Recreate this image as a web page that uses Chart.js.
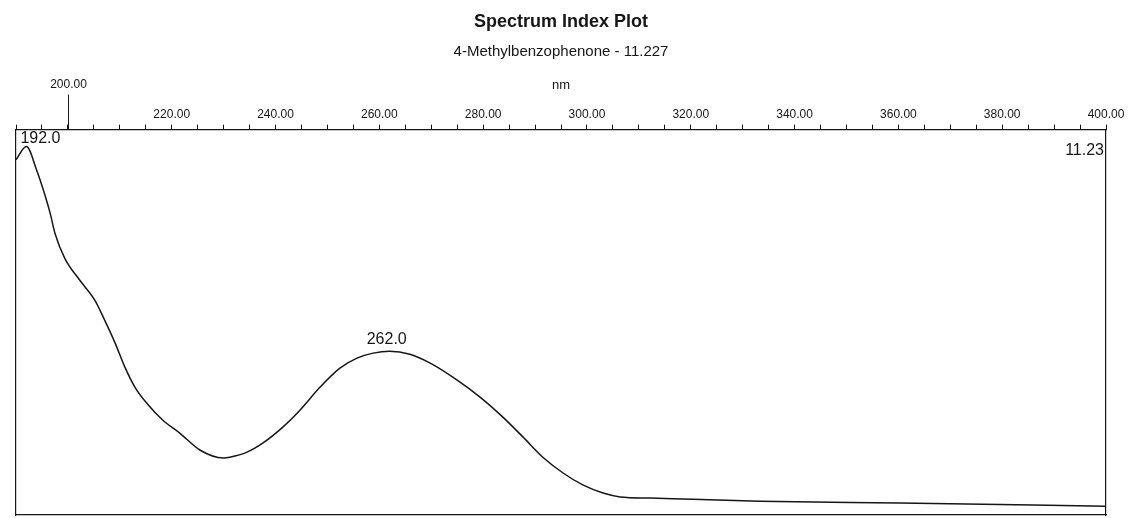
<!DOCTYPE html>
<html lang="en">
<head>
    <meta charset="UTF-8">
    <title>Spectrum Index Plot</title>
    <script src="https://cdn.jsdelivr.net/npm/chart.js"></script>
    <style>
        body { margin: 0; background: #fff; }
        .wrap { width: 1130px; height: 518px; position: relative; }
    </style>
</head>
<body>
<div class="wrap"><canvas id="spec"></canvas></div>
<script>
// wavelength (nm) and relative absorbance
const wavelengths = [190.0, 192.0, 194.0, 195.3, 196.6, 197.5, 199.4, 202.3, 205.2, 207.1,
    209.1, 211.0, 212.9, 215.2, 218.3, 221.6, 225.5, 229.9, 231.2, 234.5,
    237.6, 241.4, 244.7, 248.6, 252.4, 255.7, 258.8, 262.0, 265.9, 269.8,
    275.0, 279.4, 283.8, 287.7, 291.5, 295.4, 299.2, 303.1, 306.4, 312.2,
    320.4, 333.4, 360.3, 400.0];
const absorbance = [0.922, 0.956, 0.894, 0.842, 0.782, 0.731, 0.666, 0.609, 0.557, 0.505,
    0.446, 0.383, 0.332, 0.290, 0.246, 0.212, 0.168, 0.148, 0.150, 0.163,
    0.187, 0.228, 0.272, 0.332, 0.381, 0.407, 0.420, 0.425, 0.417, 0.394,
    0.350, 0.306, 0.254, 0.202, 0.150, 0.109, 0.078, 0.057, 0.047, 0.044,
    0.041, 0.036, 0.031, 0.023];
const peakLabels = [192.0, 262.0];
const retentionLabel = "11.23";
const labelledTicks = [220, 240, 260, 280, 300, 320, 340, 360, 380, 400];

const FONT = "'Liberation Sans', Arial, sans-serif";
const INK = "#161616";

const points = wavelengths.map((w, i) => ({ x: w, y: absorbance[i] }));

// peak labels, the raised 200.00 tick and the retention time
const marks = {
    id: "marks",
    afterDraw(chart) {
        const ctx = chart.ctx;
        const xs = chart.scales.x, ys = chart.scales.y;
        const area = chart.chartArea;
        ctx.save();
        ctx.fillStyle = INK;
        ctx.strokeStyle = INK;
        ctx.lineWidth = 1;

        // 200.00 tick stands higher than the others
        const x200 = Math.round(xs.getPixelForValue(200)) + 0.5;
        ctx.beginPath();
        ctx.moveTo(x200, area.top);
        ctx.lineTo(x200, area.top - 35);
        ctx.stroke();
        ctx.font = "12px " + FONT;
        ctx.textAlign = "center";
        ctx.textBaseline = "middle";
        ctx.fillText("200.00", x200, area.top - 45);

        ctx.font = "16px " + FONT;
        peakLabels.forEach(p => {
            const i = wavelengths.indexOf(p);
            const px = xs.getPixelForValue(p);
            const py = ys.getPixelForValue(absorbance[i]);
            if (p < 200) {
                ctx.textAlign = "left";
                ctx.fillText(p.toFixed(1), px - 6, py - 8);
            } else {
                ctx.textAlign = "center";
                ctx.fillText(p.toFixed(1), px - 3, py - 12);
            }
        });

        ctx.textAlign = "right";
        ctx.fillText(retentionLabel, area.right - 2, area.top + 21);
        ctx.restore();
    }
};

const hidden = {
    ticks: { display: false },
    grid: { display: false, drawTicks: false },
    border: { display: true, color: INK, width: 1.2 }
};

new Chart(document.getElementById("spec"), {
    type: "line",
    data: {
        datasets: [{
            data: points,
            borderColor: INK,
            borderWidth: 1.5,
            pointRadius: 0,
            cubicInterpolationMode: "monotone",
            fill: false
        }]
    },
    options: {
        responsive: true,
        maintainAspectRatio: false,
        animation: false,
        layout: { padding: { left: 16, right: 24, top: 0, bottom: 3 } },
        plugins: {
            legend: { display: false },
            tooltip: { enabled: false },
            title: {
                display: true,
                text: "Spectrum Index Plot",
                color: INK,
                font: { family: FONT, size: 18, weight: "bold" },
                padding: { top: 11, bottom: 0 }
            },
            subtitle: {
                display: true,
                text: "4-Methylbenzophenone - 11.227",
                color: INK,
                font: { family: FONT, size: 15 },
                padding: { top: 10, bottom: 17 }
            }
        },
        scales: {
            x: {
                type: "linear",
                position: "top",
                min: 190,
                max: 400,
                title: {
                    display: true,
                    text: "nm",
                    color: INK,
                    font: { family: FONT, size: 13 },
                    padding: { top: 0, bottom: 11 }
                },
                ticks: {
                    stepSize: 5,
                    autoSkip: false,
                    maxRotation: 0,
                    padding: 3,
                    color: INK,
                    font: { family: FONT, size: 12 },
                    callback: v => labelledTicks.includes(v) ? v.toFixed(2) : ""
                },
                grid: { drawOnChartArea: false, tickLength: 5, color: INK },
                border: { color: INK, width: 1.2 }
            },
            x2: Object.assign({ type: "linear", position: "bottom", min: 190, max: 400 }, hidden),
            y: Object.assign({ type: "linear", position: "left", min: 0, max: 1 }, hidden),
            y2: Object.assign({ type: "linear", position: "right", min: 0, max: 1 }, hidden)
        }
    },
    plugins: [marks]
});
</script>
</body>
</html>
